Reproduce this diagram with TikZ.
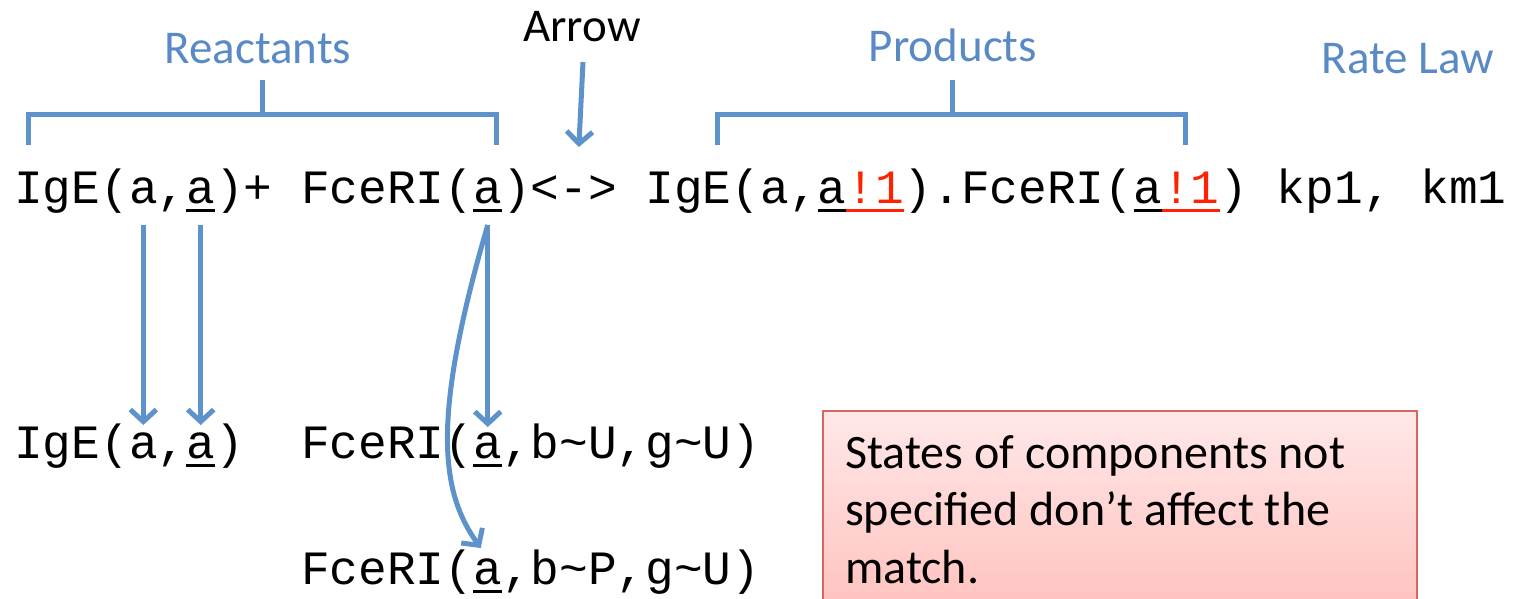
\documentclass[tikz,border=0pt]{standalone}
\usepackage{fontspec}
\setmainfont{Carlito}
\newfontfamily\codefont{Liberation Mono}
\usetikzlibrary{arrows.meta}
\definecolor{linkblue}{HTML}{5E92CB}
\definecolor{labelblue}{HTML}{5A8AC6}
\definecolor{bondred}{HTML}{FF2200}
\definecolor{noteedge}{HTML}{D4675F}
\definecolor{notetop}{HTML}{FFE8E8}
\definecolor{notebottom}{HTML}{FFBCB8}
\newcommand{\uln}[1]{\setbox0\hbox{#1}\rlap{\rule[-8.5pt]{\wd0}{3pt}}\box0}
\newcommand{\cx}[1]{14+#1*28.7}
\tikzset{
  code/.style={font=\codefont\fontsize{47.8pt}{57pt}\selectfont, inner sep=0pt, anchor=base west},
  lbl/.style={font=\fontsize{47pt}{56pt}\selectfont, text=labelblue, inner sep=0pt, anchor=base},
  brk/.style={draw=linkblue, line width=5pt},
  link/.style={draw=linkblue, line width=5pt, -{Straight Barb[length=12pt,width=26pt]}},
}

\begin{document}
\begin{tikzpicture}[x=1pt, y=-1pt]
  \useasboundingbox (0,0) rectangle (1514,599);
  % labels
  \node[lbl] (reactants) at (258,64) {Reactants};
  \node[lbl, text=black] (arrowlbl) at (582,42) {Arrow};
  \node[lbl] (products) at (953,62) {Products};
  \node[lbl] (ratelaw) at (1408,74) {Rate Law};
  % brackets
  \coordinate (rmid) at (262,115);
  \coordinate (pmid) at (952,115);
  \draw[brk] (28,145) |- (496,115) -- (496,145);
  \draw[brk] (717,145) |- (1185,115) -- (1185,145);
  \draw[brk] (rmid) -- ++(0,-35);
  \draw[brk] (pmid) -- ++(0,-35);
  % the rule
  \node[code] (r0) at (\cx{0},203) {IgE(};
  \node[code] (ra1) at (\cx{4},203) {a};
  \node[code] (r5) at (\cx{5},203) {,};
  \node[code] (ra2) at (\cx{6},203) {\uln{a}};
  \node[code] (r7) at (\cx{7},203) {)+ FceRI(};
  \node[code] (ra3) at (\cx{16},203) {\uln{a}};
  \node[code] (r17) at (\cx{17},203) {)};
  \node[code] (rarr) at (\cx{18},203) {<->};
  \node[code] (r22) at (\cx{22},203) {IgE(a,};
  \node[code] (pa1) at (\cx{28},203) {\uln{a}\textcolor{bondred}{\uln{!1}}};
  \node[code] (r31) at (\cx{31},203) {).FceRI(};
  \node[code] (pa2) at (\cx{39},203) {\uln{a}\textcolor{bondred}{\uln{!1}}};
  \node[code] (rates) at (\cx{42},203) {) kp1, km1};
  % matched species
  \node[code] (s0) at (\cx{0},458) {IgE(};
  \node[code] (sa1) at (\cx{4},458) {a};
  \node[code] (s5) at (\cx{5},458) {,};
  \node[code] (sa2) at (\cx{6},458) {\uln{a}};
  \node[code] (s7) at (\cx{7},458) {)};
  \node[code] (u0) at (\cx{10},458) {FceRI(};
  \node[code] (ua) at (\cx{16},458) {\uln{a}};
  \node[code] (u17) at (\cx{17},458) {,b\textasciitilde U,g\textasciitilde U)};
  \node[code] (p0) at (\cx{10},584) {FceRI(};
  \node[code] (pa) at (\cx{16},584) {\uln{a}};
  \node[code] (p17) at (\cx{17},584) {,b\textasciitilde P,g\textasciitilde U)};
  % arrows
  \draw[link] ([xshift=1pt,yshift=-20pt]arrowlbl.base) -- ([xshift=5pt,yshift=56pt]rarr.base);
  \draw[link] ([yshift=-22pt]ra1.base) -- ([yshift=33pt]sa1.base);
  \draw[link] ([yshift=-22pt]ra2.base) -- ([yshift=33pt]sa2.base);
  \draw[link] ([yshift=-22pt]ra3.base) -- ([yshift=31pt]ua.base);
  \draw[link] ([yshift=-22pt]ra3.base) .. controls +(-57,195) and +(-40,-56) .. ([xshift=-7pt,yshift=36pt]pa.base);
  % note
  \path[draw=noteedge, line width=2.5pt, top color=notetop, bottom color=notebottom] (823,411) rectangle (1417,640);
  \node[anchor=base west, align=left, inner sep=0pt, font=\fontsize{48pt}{57.5pt}\selectfont] (note) at (845,583) {States of components not\\specified don’t affect the\\match.};
\end{tikzpicture}
\end{document}
